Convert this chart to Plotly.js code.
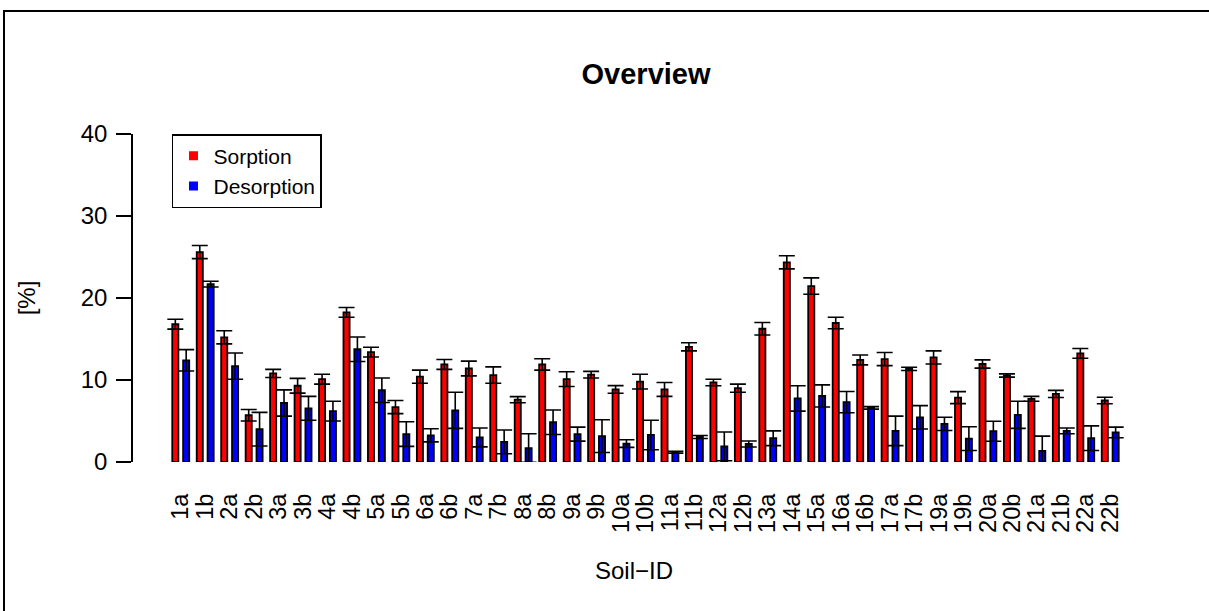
<!DOCTYPE html>
<html>
<head>
<meta charset="utf-8">
<script src="https://cdn.plot.ly/plotly-3.0.1.min.js"></script>
<style>
  html, body { margin: 0; padding: 0; background: #ffffff; }
  #chart { width: 1209px; height: 611px; }
</style>
</head>
<body>
<div id="chart"></div>
<script>
// Soil sample identifiers
const soilIds = ['1a','1b','2a','2b','3a','3b','4a','4b','5a','5b','6a','6b','7a','7b','8a','8b','9a','9b','10a','10b',
                 '11a','11b','12a','12b','13a','14a','15a','16a','16b','17a','17b','19a','19b','20a','20b','21a','21b','22a','22b'];

// Sorption [%] and standard deviation
const sorption = [16.8,25.6,15.2,5.7,10.8,9.3,10.1,18.25,13.4,6.7,10.4,11.9,11.4,10.6,7.6,11.9,10.1,10.65,8.85,9.8,
                  8.85,14.05,9.7,9.0,16.25,24.35,21.45,16.95,12.45,12.55,11.35,12.75,7.85,11.95,10.55,7.7,8.3,13.25,7.5];
const sorptionSd = [0.6,0.8,0.8,0.7,0.5,0.9,0.6,0.6,0.6,0.8,0.8,0.6,0.9,1.0,0.37,0.7,0.9,0.4,0.47,0.9,
                    0.85,0.5,0.4,0.5,0.77,0.8,1.0,0.7,0.6,0.8,0.2,0.8,0.73,0.5,0.2,0.3,0.43,0.6,0.4];

// Desorption [%] and standard deviation
const desorption = [12.4,21.7,11.7,4.0,7.2,6.55,6.2,13.75,8.75,3.4,3.25,6.3,3.0,2.45,1.7,4.85,3.4,3.15,2.25,3.3,
                    1.2,3.05,1.9,2.2,2.9,7.75,8.05,7.3,6.6,3.8,5.45,4.65,2.85,3.75,5.75,1.35,3.8,2.9,3.6];
const desorptionSd = [1.3,0.35,1.6,2.05,1.6,1.45,1.2,1.5,1.5,1.5,0.8,2.2,1.15,1.45,1.75,1.5,0.85,2.0,0.47,1.8,
                      0.12,0.18,1.75,0.37,0.9,1.55,1.35,1.3,0.15,1.8,1.43,0.8,1.45,1.22,1.65,1.8,0.35,1.5,0.65];

const yTicks = [0, 10, 20, 30, 40];

const FONT = 'Liberation Sans, Arial, Helvetica, sans-serif';
const BAR_W = 0.25;

function barTrace(name, values, sd, color, offset) {
  return {
    type: 'bar',
    name: name,
    x: soilIds,
    y: values,
    width: BAR_W,
    offset: offset,
    showlegend: false,
    marker: { color: color, line: { color: '#000000', width: 1.8 } },
    error_y: { type: 'data', array: sd, visible: true, color: '#000000', thickness: 1.6, width: 8 },
    hoverinfo: 'x+y'
  };
}

// legend entries drawn as plain filled squares
function legendTrace(name, color) {
  return {
    type: 'scatter', mode: 'markers', name: name,
    x: [null], y: [null],
    marker: { symbol: 'square', size: 9, color: color }
  };
}

const traces = [
  barTrace('Sorption', sorption, sorptionSd, '#ff0000', -0.222 - BAR_W / 2),
  barTrace('Desorption', desorption, desorptionSd, '#0000ff', 0.222 - BAR_W / 2),
  legendTrace('Sorption', '#ff0000'),
  legendTrace('Desorption', '#0000ff')
];

const layout = {
  width: 1209,
  height: 611,
  margin: { l: 133, r: 74, t: 134, b: 149 },
  paper_bgcolor: '#ffffff',
  plot_bgcolor: '#ffffff',
  font: { family: FONT, color: '#000000', size: 24 },
  barmode: 'overlay',
  title: {
    text: 'Overview',
    font: { family: FONT, size: 29, weight: 'bold', color: '#000000' },
    x: 0.512, xref: 'paper', xanchor: 'center',
    y: 1 - 74 / 611, yref: 'container', yanchor: 'middle'
  },
  xaxis: {
    type: 'category',
    range: [-1.952, 39.013],
    tickmode: 'array',
    tickvals: soilIds,
    ticktext: soilIds,
    showline: false,
    showgrid: false,
    zeroline: false,
    ticks: '',
    tickangle: -90,
    tickfont: { family: FONT, size: 23.5 },
    ticklabelstandoff: 26,
    title: { text: 'Soil\u2212ID', font: { family: FONT, size: 24 }, standoff: 30 }
  },
  yaxis: {
    range: [0, 40],
    tickvals: yTicks,
    ticktext: yTicks.map(String),
    showline: true,
    linecolor: '#000000',
    linewidth: 1.6,
    ticks: 'outside',
    ticklen: 15,
    tickwidth: 1.6,
    tickcolor: '#000000',
    showgrid: false,
    zeroline: false,
    tickfont: { family: FONT, size: 24 },
    ticklabelstandoff: 4,
    title: { text: '[%]', font: { family: FONT, size: 24 }, standoff: 38 }
  },
  legend: {
    x: 0.0389, y: 1, xanchor: 'left', yanchor: 'top',
    xref: 'paper', yref: 'paper',
    bgcolor: '#ffffff',
    bordercolor: '#000000',
    borderwidth: 1.5,
    font: { family: FONT, size: 21, color: '#000000' },
    tracegroupgap: 0
  },
  shapes: [
    // outer frame of the figure
    { type: 'rect', xref: 'paper', yref: 'paper',
      x0: (4 - 133) / 1002, x1: (1214 - 133) / 1002,
      y0: -(616 - 462) / 328, y1: 1 + (134 - 11) / 328,
      line: { color: '#000000', width: 2 }, fillcolor: 'rgba(0,0,0,0)', layer: 'above' }
  ]
};

Plotly.newPlot('chart', traces, layout, { displayModeBar: false, responsive: false });
</script>
</body>
</html>
